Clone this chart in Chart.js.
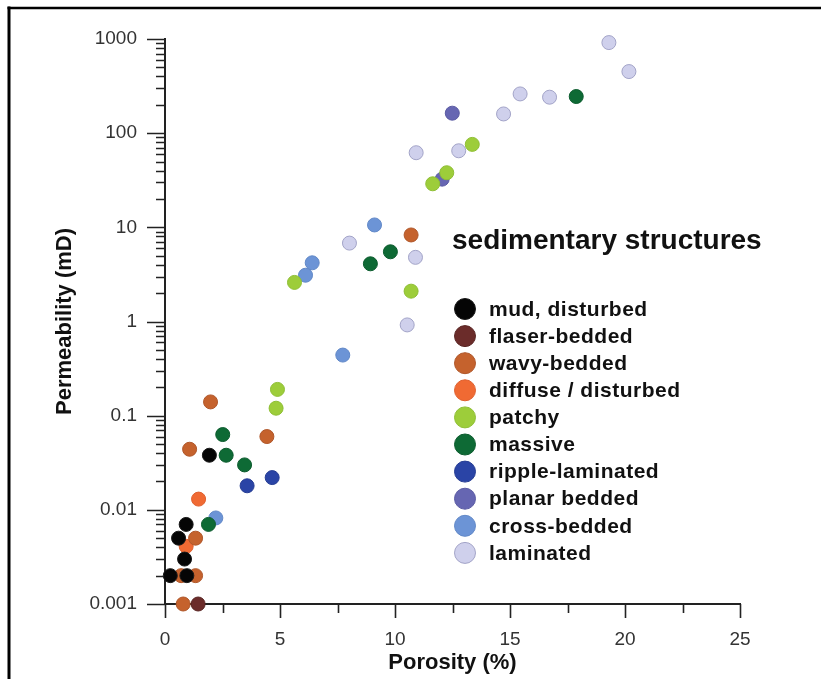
<!DOCTYPE html>
<html lang="en">
<head>
<meta charset="UTF-8">
<title>Porosity vs Permeability</title>
<script src="https://cdn.jsdelivr.net/npm/chart.js"></script>
<style>
    html, body {
        margin: 0;
        padding: 0;
        background: #fff;
        overflow: hidden;
    }

    #wrap {
        position: relative;
        width: 821px;
        height: 679px;
    }
</style>
</head>
<body>
<div id="wrap"><canvas id="chart"></canvas></div>

<script>
    // [porosity (%), permeability (mD)] for each sedimentary structure
    const mudDisturbed = [[0.23, 0.002], [0.95, 0.002], [0.85, 0.003], [0.59, 0.005], [0.92, 0.007], [1.93, 0.038]];
    const flaserBedded = [[1.44, 0.001]];
    const wavyBedded = [[0.79, 0.001], [0.70, 0.002], [1.33, 0.002], [1.33, 0.005], [1.07, 0.044], [4.43, 0.060], [1.98, 0.14], [10.70, 8.3]];
    const diffuseDisturbed = [[0.92, 0.0041], [1.46, 0.013]];
    const patchy = [[4.83, 0.12], [4.89, 0.19], [5.63, 2.6], [10.70, 2.1], [11.64, 29], [12.25, 38], [13.36, 76]];
    const massive = [[1.89, 0.007], [3.46, 0.030], [2.66, 0.038], [2.51, 0.063], [8.93, 4.1], [9.80, 5.5], [17.88, 245]];
    const rippleLaminated = [[3.57, 0.018], [4.66, 0.022]];
    const planarBedded = [[12.05, 32.5], [12.49, 163]];
    const crossBedded = [[2.21, 0.0082], [7.73, 0.44], [6.11, 3.1], [6.40, 4.2], [9.11, 10.6]];
    const laminated = [[10.53, 0.92], [10.89, 4.8], [8.02, 6.8], [10.92, 62], [12.77, 65], [14.72, 160], [16.72, 241], [15.44, 261], [20.17, 451], [19.30, 916]];

    const STRUCTURES = ['mud, disturbed', 'flaser-bedded', 'wavy-bedded', 'diffuse / disturbed', 'patchy',
        'massive', 'ripple-laminated', 'planar bedded', 'cross-bedded', 'laminated'];
    const SERIES = [mudDisturbed, flaserBedded, wavyBedded, diffuseDisturbed, patchy,
        massive, rippleLaminated, planarBedded, crossBedded, laminated];
    const FILLS = ['#050505', '#6b2c2a', '#c5622d', '#f06a33', '#9dcd3a',
        '#0e6a35', '#2a44a6', '#6666b2', '#6c94d6', '#cfd0ec'];
    const EDGES = ['#1a1a1a', '#5a2624', '#b0572a', '#e0602e', '#8fbf35',
        '#0c5c2e', '#263d94', '#5c5ca4', '#6289c8', '#a3a4c8'];

    const LEGEND_TITLE = 'sedimentary structures';

    const X_MAJOR = [0, 5, 10, 15, 20, 25];
    const X_MINOR = [2.5, 7.5, 12.5, 17.5, 22.5];
    const Y_MAJOR = [0.001, 0.01, 0.1, 1, 10, 100, 1000];
    const Y_LABELS = ['0.001', '0.01', '0.1', '1', '10', '100', '1000'];

    const FONT = 'Arial, "Liberation Sans", sans-serif';

    // 2..9 minor ticks inside every decade
    const yMinor = [];
    for (let i = 0; i < Y_MAJOR.length - 1; i++) {
        for (let k = 2; k <= 9; k++) {
            yMinor.push(Number((k * Y_MAJOR[i]).toPrecision(3)));
        }
    }

    const isMajorY = v => Y_MAJOR.some(m => Math.abs(m - v) / m < 1e-6);

    // white page with the black frame on the top and left edges
    const frame = {
        id: 'frame',
        beforeDraw(chart) {
            const { ctx, width, height } = chart;
            ctx.save();
            ctx.fillStyle = '#fff';
            ctx.fillRect(0, 0, width, height);
            ctx.strokeStyle = '#000';
            ctx.lineWidth = 3;
            ctx.beginPath();
            ctx.moveTo(9, 6.5);
            ctx.lineTo(9, height);
            ctx.stroke();
            ctx.lineWidth = 2.6;
            ctx.beginPath();
            ctx.moveTo(7.5, 8);
            ctx.lineTo(width, 8);
            ctx.stroke();
            ctx.restore();
        }
    };

    // outside tick marks, long on major values and short on minor ones
    const axisTicks = {
        id: 'axisTicks',
        beforeDatasetsDraw(chart) {
            const { ctx, scales: { x, y } } = chart;
            ctx.save();
            ctx.strokeStyle = '#222';
            ctx.lineWidth = 1.6;
            ctx.beginPath();
            x.ticks.forEach(t => {
                const px = Math.round(x.getPixelForValue(t.value)) + 0.5;
                const len = X_MAJOR.includes(t.value) ? 14 : 9;
                ctx.moveTo(px, x.top);
                ctx.lineTo(px, x.top + len);
            });
            y.ticks.forEach(t => {
                const py = Math.round(y.getPixelForValue(t.value)) + 0.5;
                const len = isMajorY(t.value) ? 18 : 9;
                ctx.moveTo(y.right, py);
                ctx.lineTo(y.right - len, py);
            });
            ctx.stroke();
            ctx.restore();
        }
    };

    // legend block inside the plot, built from the datasets
    const structureLegend = {
        id: 'structureLegend',
        afterDraw(chart) {
            const ctx = chart.ctx;
            ctx.save();
            ctx.textBaseline = 'middle';
            ctx.textAlign = 'left';
            ctx.fillStyle = '#111';
            ctx.font = 'bold 28px ' + FONT;
            ctx.fillText(LEGEND_TITLE, 452, 241);

            chart.data.datasets.forEach((ds, i) => {
                const cy = 309 + i * 27.1;
                ctx.beginPath();
                ctx.arc(465, cy, 10.5, 0, Math.PI * 2);
                ctx.fillStyle = ds.backgroundColor;
                ctx.fill();
                ctx.lineWidth = 1;
                ctx.strokeStyle = ds.borderColor;
                ctx.stroke();

                ctx.fillStyle = '#111';
                ctx.font = 'bold 21px ' + FONT;
                ctx.letterSpacing = '0.5px';
                ctx.fillText(ds.label, 489, cy + 1);
                ctx.letterSpacing = '0px';
            });
            ctx.restore();
        }
    };

    const datasets = SERIES.map((pts, i) => ({
        label: STRUCTURES[i],
        data: pts.map(([x, y]) => ({ x, y })),
        backgroundColor: FILLS[i],
        borderColor: EDGES[i],
        borderWidth: 1,
        pointRadius: 7,
        pointHoverRadius: 7,
        clip: false
    }));

    new Chart(document.getElementById('chart'), {
        type: 'scatter',
        data: { datasets },
        options: {
            responsive: true,
            maintainAspectRatio: false,
            animation: false,
            events: [],
            layout: {
                padding: { top: 39, right: 81, left: 0, bottom: 0 }
            },
            plugins: {
                legend: { display: false },
                tooltip: { enabled: false }
            },
            scales: {
                x: {
                    type: 'linear',
                    min: 0,
                    max: 25,
                    afterFit: scale => { scale.height = 75; },
                    afterBuildTicks: scale => {
                        scale.ticks = [...X_MAJOR, ...X_MINOR].sort((a, b) => a - b).map(v => ({ value: v }));
                    },
                    ticks: {
                        autoSkip: false,
                        maxRotation: 0,
                        padding: 10,
                        color: '#333',
                        font: { family: FONT, size: 19 },
                        callback: v => X_MAJOR.includes(v) ? String(v) : ''
                    },
                    grid: {
                        display: true,
                        drawOnChartArea: false,
                        drawTicks: true,
                        tickLength: 14,
                        tickColor: 'rgba(0,0,0,0)'
                    },
                    border: { display: true, color: '#222', width: 2 },
                    title: {
                        display: true,
                        text: 'Porosity (%)',
                        color: '#111',
                        font: { family: FONT, size: 22, weight: 'bold' },
                        padding: { top: 0, bottom: 3 }
                    }
                },
                y: {
                    type: 'logarithmic',
                    min: 0.001,
                    max: 1000,
                    afterFit: scale => { scale.width = 165; },
                    afterBuildTicks: scale => {
                        scale.ticks = [...Y_MAJOR, ...yMinor].sort((a, b) => a - b).map(v => ({ value: v, major: isMajorY(v) }));
                    },
                    ticks: {
                        autoSkip: false,
                        padding: 10,
                        color: '#333',
                        font: { family: FONT, size: 19 },
                        callback: v => {
                            const i = Y_MAJOR.findIndex(m => Math.abs(m - v) / m < 1e-6);
                            return i >= 0 ? Y_LABELS[i] : '';
                        }
                    },
                    grid: {
                        display: true,
                        drawOnChartArea: false,
                        drawTicks: true,
                        tickLength: 18,
                        tickColor: 'rgba(0,0,0,0)'
                    },
                    border: { display: true, color: '#222', width: 2 },
                    title: {
                        display: true,
                        text: 'Permeability (mD)',
                        color: '#111',
                        font: { family: FONT, size: 22, weight: 'bold' },
                        padding: { top: 52, bottom: 0 }
                    }
                }
            }
        },
        plugins: [frame, axisTicks, structureLegend]
    });
</script>
</body>
</html>
